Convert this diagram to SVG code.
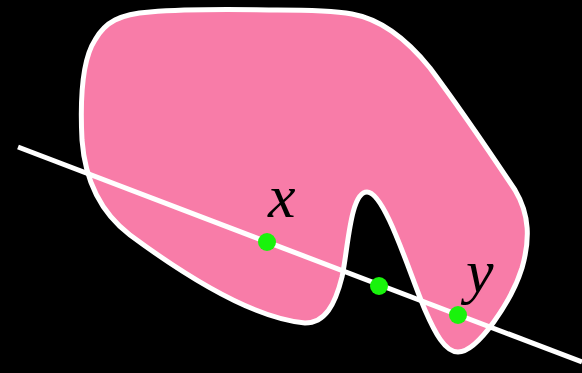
<svg xmlns="http://www.w3.org/2000/svg" width="582" height="373" viewBox="0 0 582 373">
<style>
.blob{fill:#f87ca8;stroke:#fff;stroke-width:5;stroke-linejoin:round}
.ln{stroke:#fff;stroke-width:5;fill:none}
.pt{fill:#19f30c}
.lbl{font-family:"Liberation Serif",serif;font-style:italic;font-size:62px;fill:#000}
</style>
<rect width="582" height="373" fill="#000"/>
<g id="region">
<path class="blob" d="M277,10 C310,10 335,11 352,14 C380,19 405,37 430,68 C465,115 495,160 515,190 C530,215 530,240 522,268 C512,300 478,352 458,352 C445,352 435,333 425,310 C410,275 385,192 367,192 C350,192 348,250 342,277 C335,305 325,323 305,323 C250,318 180,272 130,235 C100,212 85,180 82,140 C80,100 82,60 95,40 C105,22 120,14 150,12 C200,8 250,10 277,10 Z"/>
</g>
<g id="connectors">
<line class="ln" x1="18" y1="147" x2="582" y2="362"/>
</g>
<g id="point-x">
<circle class="pt" cx="267" cy="242" r="9"/>
<text class="lbl" x="268" y="217">x</text>
</g>
<g id="point-mid">
<circle class="pt" cx="379" cy="286" r="9"/>
</g>
<g id="point-y">
<circle class="pt" cx="458" cy="315" r="9"/>
<text class="lbl" x="466" y="292">y</text>
</g>
</svg>
